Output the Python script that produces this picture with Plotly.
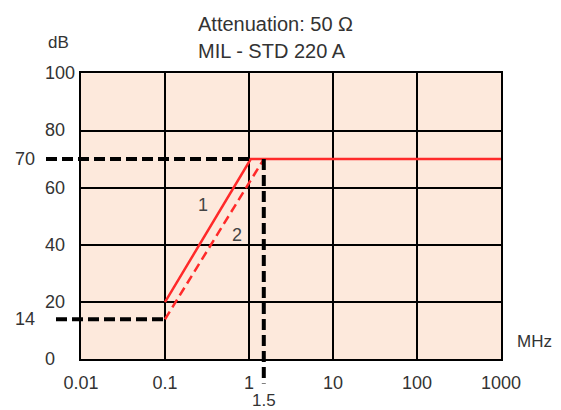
import math
import plotly.graph_objects as go

# ---------------- data ----------------
x_tick_vals = [0.01, 0.1, 1, 10, 100, 1000]
x_tick_text = ["0.01", "0.1", "1", "10", "100", "1000"]
y_tick_vals = [0, 20, 40, 60, 80, 100]

curve1_mhz = [0.1, 1.05, 1000]
curve1_db = [20, 70, 70]
curve2_mhz = [0.1, 1.5]
curve2_db = [14, 70]

marked_db = [70, 14]          # dashed reference levels
marked_db_end_mhz = [1, 0.1]  # where the reference levels meet the curves
marked_mhz = 1.5              # dashed reference frequency

curve_labels = ["1", "2"]
curve_label_mhz = [0.28, 0.72]
curve_label_db = [54, 43.5]

title_lines = ["Attenuation: 50 \u03a9", "MIL - STD 220 A"]

# ---------------- layout geometry ----------------
W, H = 561, 410
PL, PR, PT, PB = 81, 501, 73.3, 359.3
xd = [PL / W, PR / W]
yd = [1 - PB / H, 1 - PT / H]
xr = [-2, 3]
yr = [0, 100]
kx = (xr[1] - xr[0]) / (PR - PL)
ky = (yr[1] - yr[0]) / (PB - PT)
x2r = [xr[0] - PL * kx, xr[1] + (W - PR) * kx]
y2r = [yr[0] - (H - PB) * ky, yr[1] + PT * ky]

FONT = "Liberation Sans, Arial, sans-serif"
TXT = "#333333"
RED = "#FF2A2A"
BG = "#FDE9DC"

fig = go.Figure()

fig.add_trace(go.Scatter(x=curve1_mhz, y=curve1_db, mode="lines",
                         line=dict(color=RED, width=2.5), xaxis="x", yaxis="y",
                         showlegend=False, hoverinfo="skip"))
fig.add_trace(go.Scatter(x=curve2_mhz, y=curve2_db, mode="lines",
                         line=dict(color=RED, width=2.5, dash="9px,5px"),
                         xaxis="x", yaxis="y", showlegend=False, hoverinfo="skip"))

# reference dashed guide lines (full-page overlay axes with identical scale)
guide_left_mhz = [10 ** (x2r[0] + 46 * kx), 10 ** (x2r[0] + 56 * kx)]
for db, xstart, xend in zip(marked_db, guide_left_mhz, marked_db_end_mhz):
    fig.add_trace(go.Scatter(x=[xstart, xend], y=[db, db], mode="lines",
                             line=dict(color="black", width=4, dash="11px,5px"),
                             xaxis="x2", yaxis="y2", showlegend=False, hoverinfo="skip"))
fig.add_trace(go.Scatter(x=[marked_mhz, marked_mhz], y=[marked_db[0], yr[0] - 8.5],
                         mode="lines", line=dict(color="black", width=4, dash="11px,5px"),
                         xaxis="x2", yaxis="y2", showlegend=False, hoverinfo="skip"))

fig.add_shape(type="rect", xref="x domain", yref="y domain", x0=0, x1=1, y0=0, y1=1,
              fillcolor=BG, line=dict(width=0), layer="below")

ann = []
for i, line in enumerate(title_lines):
    ann.append(dict(text=line, xref="paper", yref="paper", x=196 / W,
                    y=1 - (24 + 27 * i) / H, xanchor="left", yanchor="middle",
                    showarrow=False, font=dict(family=FONT, size=20, color=TXT)))
ann.append(dict(text="dB", xref="paper", yref="paper", x=46 / W, y=1 - 43 / H,
                xanchor="left", yanchor="middle", showarrow=False,
                font=dict(family=FONT, size=17, color=TXT)))
ann.append(dict(text="MHz", xref="paper", yref="paper", x=515 / W, y=1 - 341 / H,
                xanchor="left", yanchor="middle", showarrow=False,
                font=dict(family=FONT, size=17, color=TXT)))
for v in y_tick_vals:
    ann.append(dict(text=str(v), xref="paper", yref="y", x=43 / W, y=v,
                    xanchor="left", yanchor="middle", showarrow=False,
                    font=dict(family=FONT, size=18, color=TXT)))
for v in marked_db:
    ann.append(dict(text=str(v), xref="paper", yref="y", x=37 / W, y=v,
                    xanchor="right", yanchor="middle", showarrow=False,
                    font=dict(family=FONT, size=18, color=TXT)))
ann.append(dict(text=str(marked_mhz), xref="x", yref="paper", x=math.log10(marked_mhz),
                y=1 - 400 / H, xanchor="center", yanchor="middle", showarrow=False,
                font=dict(family=FONT, size=17, color=TXT)))
for t, xm, yv in zip(curve_labels, curve_label_mhz, curve_label_db):
    ann.append(dict(text=t, xref="x", yref="y", x=math.log10(xm), y=yv,
                    xanchor="center", yanchor="middle", showarrow=False,
                    font=dict(family=FONT, size=18, color="#444444")))

fig.update_layout(
    width=W, height=H, margin=dict(l=0, r=0, t=0, b=0, autoexpand=False),
    template="none",
    paper_bgcolor="white", plot_bgcolor="rgba(0,0,0,0)",
    showlegend=False, annotations=ann,
    xaxis=dict(type="log", range=xr, domain=xd, anchor="y", automargin=False,
               tickvals=x_tick_vals, ticktext=x_tick_text,
               showgrid=True, gridcolor="black", gridwidth=1.5,
               showline=True, mirror=True, linecolor="black", linewidth=2,
               ticks="", ticklabelstandoff=6, zeroline=False,
               tickfont=dict(family=FONT, size=18, color=TXT)),
    yaxis=dict(range=yr, domain=yd, anchor="x", tickvals=y_tick_vals, automargin=False,
               showticklabels=False, showgrid=True, gridcolor="black", gridwidth=1.5,
               showline=True, mirror=True, linecolor="black", linewidth=2,
               ticks="", zeroline=False),
    xaxis2=dict(type="log", range=x2r, domain=[0, 1], anchor="y2", visible=False,
                automargin=False),
    yaxis2=dict(range=y2r, domain=[0, 1], anchor="x2", visible=False, automargin=False),
)

fig.write_html("out.html")
